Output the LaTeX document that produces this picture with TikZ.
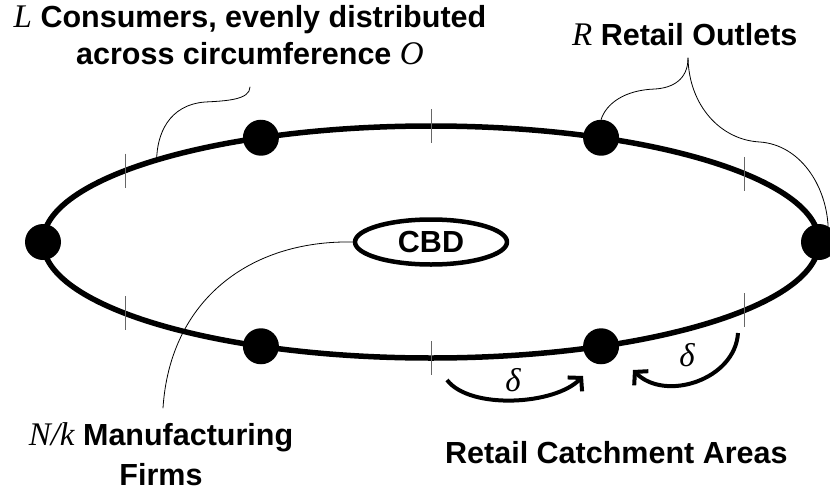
\documentclass[tikz,border=0pt]{standalone}
\usepackage{fontspec}
\setmainfont{Liberation Sans}
\newfontfamily\timesfont{Liberation Serif}
\usetikzlibrary{arrows.meta,shapes.geometric}
\newcommand{\sym}[1]{{\fontsize{33}{37}\timesfont\itshape\mdseries #1}}

\begin{document}
\begin{tikzpicture}[x=1pt,y=-1pt,line join=round,line cap=round,
	lbl/.style={font=\fontsize{30.5}{37}\selectfont\bfseries,inner sep=0pt,align=center},
	outlet/.style={circle,fill=black,minimum size=36pt,inner sep=0pt},
	leader/.style={line width=0.8pt},
	catch/.style={line width=4pt,line cap=butt,-{Straight Barb[length=9pt,width=20pt]}}]
		
		\useasboundingbox (0,0) rectangle (830,490);
		\def\cx{431}
		\def\cy{242}
		\def\rx{388}
		\def\ry{116}
		\draw[line width=5.5pt] (\cx,\cy) ellipse [x radius=\rx,y radius=\ry]; % circumference O
		\foreach \t in {36,90,142,218,270,324}
			\draw[gray!80!black,line width=1pt,line cap=butt] ({\cx+\rx*cos(\t)},{\cy-\ry*sin(\t)-17}) -- ++(0,34); % borders of the catchment areas
		\foreach \t [count=\i] in {0,64,116,180,244,296}
			\node[outlet] (o\i) at ({\cx+\rx*cos(\t)},{\cy-\ry*sin(\t)}) {}; % retail outlets
		\node[draw,ellipse,line width=4.5pt,minimum width=152pt,minimum height=45pt,inner sep=0pt,font=\fontsize{30.5}{34}\selectfont\bfseries] (cbd) at (\cx,\cy) {CBD};
		
		\node[lbl,anchor=base] (consumers) at (250,64) {\sym{L} Consumers, evenly distributed\\across circumference \sym{O}};
		\node[lbl,anchor=base west] (outlets) at (572,45) {\sym{R} Retail Outlets};
		\node[lbl,anchor=base] (firms) at (161,485) {\sym{N/k} Manufacturing\\[3pt]Firms};
		\node[lbl,anchor=base west] (areas) at (445,463) {Retail Catchment Areas};
		
		\coordinate (lc) at (250,87);
		\coordinate (lo) at ({\cx+\rx*cos(135)},{\cy-\ry*sin(135)});
		\coordinate (ro) at (688,58);
		\coordinate (fc) at (163,408);
		\draw[leader] (lc) .. controls (250,100) and (225,101) .. (205,102) .. controls (168,105) and (157,135) .. (lo);
		\draw[leader] (ro) .. controls (688,80) and (672,88) .. (655,89) .. controls (624,90) and (606,104) .. (o2.north);
		\draw[leader] (ro) .. controls (689,105) and (720,140) .. (760,142) .. controls (800,145) and (826,185) .. (o1.60);
		\draw[leader] (cbd.west) .. controls (250,240) and (170,300) .. (fc);
		
		\coordinate (d1) at (447,380);
		\coordinate (t1) at (583,376);
		\coordinate (d2) at (738,333);
		\coordinate (t2) at (633,370);
		\draw[catch] (d1) .. controls (470,410) and (555,405) .. (t1);
		\draw[catch] (d2) .. controls (735,380) and (665,402) .. (t2);
		\node[font=\fontsize{30}{34}\selectfont] (del1) at (513,380) {\sym{δ}};
		\node[font=\fontsize{30}{34}\selectfont] (del2) at (687,355) {\sym{δ}};
\end{tikzpicture}
\end{document}
